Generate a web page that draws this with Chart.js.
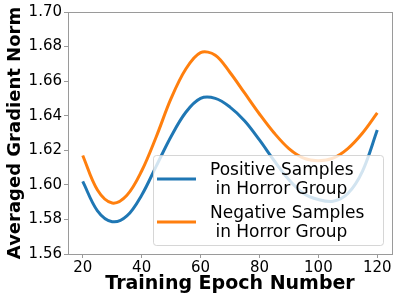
<!DOCTYPE html>
<html>
<head>
<meta charset="utf-8">
<script src="https://cdn.jsdelivr.net/npm/chart.js@4"></script>
<style>
    html, body { margin: 0; padding: 0; background: #fff; }
    #chart { display: block; }
</style>
</head>
<body>
<canvas id="chart" width="399" height="299"></canvas>
<script>
// Chart data
const epochs = [20, 25, 30, 35, 40, 45, 50, 55, 60, 65, 70, 75, 80, 85, 90, 95, 100, 105, 110, 115, 120];
const positiveNorm = [1.602, 1.585, 1.5787, 1.582, 1.594, 1.611, 1.628, 1.642, 1.650, 1.650, 1.645, 1.637,
    1.626, 1.614, 1.603, 1.595, 1.5915, 1.5905, 1.595, 1.608, 1.6317];
const negativeNorm = [1.617, 1.597, 1.5895, 1.594, 1.608, 1.628, 1.650, 1.667, 1.6765, 1.675, 1.665, 1.653,
    1.641, 1.630, 1.621, 1.6155, 1.614, 1.6155, 1.621, 1.630, 1.6416];
const seriesLabels = [['Positive Samples', ' in Horror Group'], ['Negative Samples', ' in Horror Group']];
const xTicks = [20, 40, 60, 80, 100, 120];
const yTicks = [1.56, 1.58, 1.60, 1.62, 1.64, 1.66, 1.68, 1.70];

const BLUE = '#1f77b4';
const ORANGE = '#ff7f0e';
const FRAME = '#9a9a9a';

function toPoints(values) {
    return epochs.map((e, i) => ({ x: e, y: values[i] }));
}

// Frame around the plot area (matplotlib style box)
const framePlugin = {
    id: 'frame',
    afterDatasetsDraw(chart) {
        const a = chart.chartArea;
        const ctx = chart.ctx;
        ctx.save();
        ctx.strokeStyle = FRAME;
        ctx.lineWidth = 1;
        ctx.strokeRect(a.left + 0.5, a.top + 0.5, a.right - a.left, a.bottom - a.top);
        ctx.restore();
    }
};

// Legend box in the lower right, semi transparent like matplotlib
const legendPlugin = {
    id: 'boxLegend',
    afterDraw(chart) {
        const ctx = chart.ctx;
        const a = chart.chartArea;
        const bx = a.right - 239, by = a.bottom - 99, bw = 230, bh = 90;
        ctx.save();
        ctx.beginPath();
        ctx.roundRect(bx + 0.5, by + 0.5, bw, bh, 3);
        ctx.fillStyle = 'rgba(255,255,255,0.8)';
        ctx.fill();
        ctx.strokeStyle = 'rgba(204,204,204,0.8)';
        ctx.lineWidth = 1;
        ctx.stroke();

        ctx.font = '17px "DejaVu Sans"';
        ctx.fillStyle = '#000';
        ctx.textBaseline = 'alphabetic';
        ctx.textAlign = 'left';
        chart.data.datasets.forEach((ds, i) => {
            const cy = by + 24 + i * 43;
            ctx.beginPath();
            ctx.moveTo(bx + 4, cy);
            ctx.lineTo(bx + 43, cy);
            ctx.strokeStyle = ds.borderColor;
            ctx.lineWidth = 3;
            ctx.stroke();
            seriesLabels[i].forEach((line, j) => {
                ctx.fillText(line, bx + 57, cy - 4 + j * 18.5);
            });
        });
        ctx.restore();
    }
};

const ctx = document.getElementById('chart').getContext('2d');
const chart = new Chart(ctx, {
    type: 'line',
    data: {
        datasets: [
            {
                label: seriesLabels[0].join(' '),
                data: toPoints(positiveNorm),
                borderColor: BLUE,
                borderWidth: 3,
                pointRadius: 0,
                tension: 0.35,
                fill: false
            },
            {
                label: seriesLabels[1].join(' '),
                data: toPoints(negativeNorm),
                borderColor: ORANGE,
                borderWidth: 3,
                pointRadius: 0,
                tension: 0.35,
                fill: false
            }
        ]
    },
    options: {
        responsive: false,
        animation: false,
        devicePixelRatio: 1,
        layout: {
            padding: { top: 12, right: 7, left: 5, bottom: 0 }
        },
        plugins: {
            legend: { display: false },
            tooltip: { enabled: false }
        },
        scales: {
            x: {
                type: 'linear',
                min: 15,
                max: 125,
                afterBuildTicks: scale => { scale.ticks = xTicks.map(v => ({ value: v })); },
                afterFit: scale => { scale.height = 45; },
                border: { display: false },
                grid: { display: true, drawOnChartArea: false, tickLength: 4, color: FRAME },
                ticks: {
                    color: '#000',
                    padding: 1,
                    maxRotation: 0,
                    font: { family: 'DejaVu Sans', size: 15 }
                },
                title: {
                    display: true,
                    text: 'Training Epoch Number',
                    color: '#000',
                    padding: { top: 0, bottom: 4 },
                    font: { family: 'DejaVu Sans', size: 19, weight: 'bold' }
                }
            },
            y: {
                min: 1.56,
                max: 1.70,
                afterBuildTicks: scale => { scale.ticks = yTicks.map(v => ({ value: v })); },
                afterFit: scale => { scale.width = 63; },
                border: { display: false },
                grid: { display: true, drawOnChartArea: false, tickLength: 4, color: FRAME },
                ticks: {
                    color: '#000',
                    padding: 2,
                    font: { family: 'DejaVu Sans', size: 15 },
                    callback: v => v.toFixed(2)
                },
                title: {
                    display: true,
                    text: 'Averaged Gradient Norm',
                    color: '#000',
                    padding: { top: 0, bottom: 0 },
                    font: { family: 'DejaVu Sans', size: 18, weight: 'bold' }
                }
            }
        }
    },
    plugins: [framePlugin, legendPlugin]
});
</script>
</body>
</html>
